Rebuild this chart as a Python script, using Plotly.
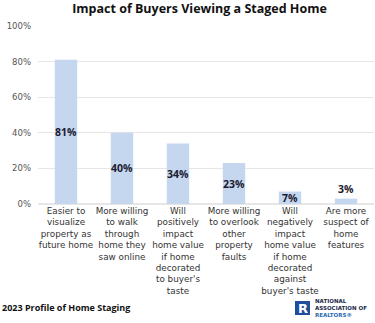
import plotly.graph_objects as go

categories = [
    "Easier to<br>visualize<br>property as<br>future home",
    "More willing<br>to walk<br>through<br>home they<br>saw online",
    "Will<br>positively<br>impact<br>home value<br>if home<br>decorated<br>to buyer's<br>taste",
    "More willing<br>to overlook<br>other<br>property<br>faults",
    "Will<br>negatively<br>impact<br>home value<br>if home<br>decorated<br>against<br>buyer's taste",
    "Are more<br>suspect of<br>home<br>features",
]
values = [81, 40, 34, 23, 7, 3]
labels = [f"{v}%" for v in values]
text_positions = ["inside", "inside", "inside", "inside", "inside", "outside"]
y_ticks = [0, 20, 40, 60, 80, 100]
y_tick_labels = [f"{t}%" for t in y_ticks]

FONT = "Open Sans"
TICKFONT = "DejaVu Sans"
BAR = "#c5d6ef"
DARK = "#1b1b2f"

fig = go.Figure(
    go.Bar(
        x=categories,
        y=values,
        text=labels,
        textposition=text_positions,
        textangle=0,
        insidetextanchor="middle",
        constraintext="none",
        cliponaxis=False,
        textfont=dict(family=FONT, size=10.5, color=DARK, weight="bold"),
        marker=dict(color=BAR, line=dict(width=0)),
        width=0.4,
    )
)

fig.update_layout(
    width=375,
    height=323,
    margin=dict(l=38, r=1, t=26, b=119),
    paper_bgcolor="white",
    plot_bgcolor="white",
    showlegend=False,
    font=dict(family=FONT, color="#333333"),
    title=dict(
        text="<b>Impact of Buyers Viewing a Staged Home</b>",
        x=199.5 / 375,
        xanchor="center",
        y=1 - 9 / 323,
        yanchor="middle",
        font=dict(family=FONT, size=12.5, color="#111111"),
    ),
    xaxis=dict(
        showgrid=False,
        showline=False,
        ticks="",
        tickangle=0,
        ticklabelstandoff=0,
        tickfont=dict(family=TICKFONT, size=8.8, color="#333333"),
    ),
    yaxis=dict(
        range=[0, 100],
        tickvals=y_ticks,
        ticktext=y_tick_labels,
        showgrid=True,
        gridcolor="#e6e6e6",
        gridwidth=1,
        zeroline=True,
        zerolinecolor="#e6e6e6",
        ticklabelstandoff=6,
        tickfont=dict(family=TICKFONT, size=8.5, color="#555555"),
    ),
    annotations=[
        dict(
            text="<b>2023 Profile of Home Staging</b>",
            xref="paper", yref="paper",
            x=-38 / 336, y=-103 / 178,
            xanchor="left", yanchor="middle",
            showarrow=False,
            font=dict(family=FONT, size=9, color="#111111"),
        ),
        dict(
            text="<b>R</b>",
            xref="paper", yref="paper",
            x=(302.5 - 38) / 336, y=(204 - 308) / 178,
            xanchor="center", yanchor="middle",
            showarrow=False,
            font=dict(family="DejaVu Sans", size=13, color="white"),
        ),
        dict(
            text="<b>NATIONAL<br>ASSOCIATION OF<br><span style='color:#2b6cb0'>REALTORS®</span></b>",
            xref="paper", yref="paper",
            x=(313 - 38) / 336, y=(204 - 308) / 178,
            xanchor="left", yanchor="middle", align="left",
            showarrow=False,
            font=dict(family="DejaVu Sans", size=5.5, color="#1b2a4a"),
        ),
    ],
    shapes=[
        dict(
            type="rect", xref="paper", yref="paper",
            x0=(295 - 38) / 336, x1=(310 - 38) / 336,
            y0=(204 - 301) / 178, y1=(204 - 315) / 178,
            fillcolor="#1f4e9c", line=dict(width=0),
        )
    ],
)

fig.write_html("out.html")
